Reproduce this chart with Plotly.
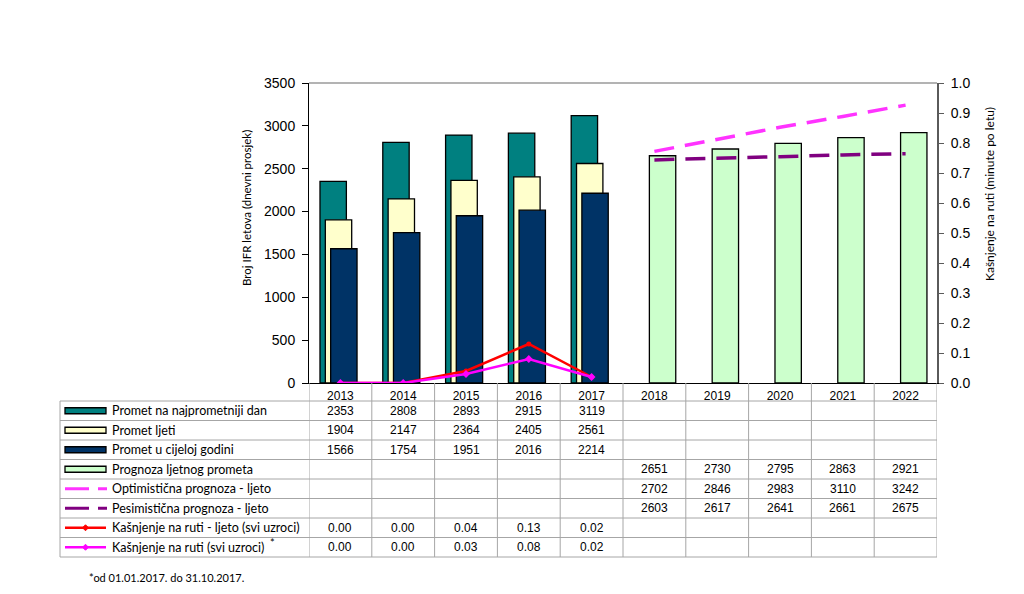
import plotly.graph_objects as go

# ---------------- data ----------------
years = ["2013", "2014", "2015", "2016", "2017", "2018", "2019", "2020", "2021", "2022"]
hist_years = years[:5]
fc_years = years[5:]

peak_day = [2353, 2808, 2893, 2915, 3119]        # Promet na najprometniji dan
summer = [1904, 2147, 2364, 2405, 2561]          # Promet ljeti
annual = [1566, 1754, 1951, 2016, 2214]          # Promet u cijeloj godini
fc_summer = [2651, 2730, 2795, 2863, 2921]       # Prognoza ljetnog prometa
fc_opt = [2702, 2846, 2983, 3110, 3242]          # Optimistična prognoza - ljeto
fc_pes = [2603, 2617, 2641, 2661, 2675]          # Pesimistična prognoza - ljeto
delay_summer = [0.00, 0.00, 0.04, 0.13, 0.02]    # Kašnjenje na ruti - ljeto
delay_all = [0.00, 0.00, 0.03, 0.08, 0.02]       # Kašnjenje na ruti (svi uzroci)

names = [
    "Promet na najprometniji dan",
    "Promet ljeti",
    "Promet u cijeloj godini",
    "Prognoza ljetnog prometa",
    "Optimistična prognoza - ljeto",
    "Pesimistična prognoza - ljeto",
    "Kašnjenje na ruti - ljeto (svi uzroci)",
    "Kašnjenje na ruti (svi uzroci)",
]

C_TEAL = "#008080"
C_CREAM = "#FFFFCC"
C_NAVY = "#003366"
C_GREEN = "#CCFFCC"
C_OPT = "#FF33FF"
C_PES = "#800080"
C_RED = "#FF0000"
C_MAG = "#FF00FF"

NUM_FONT = "Liberation Sans, Arial, sans-serif"
TXT_FONT = "Lato, Carlito, Calibri, sans-serif"

# ---------------- layout geometry (reference pixel coords, page has 8px body margin) ----------------
OFF = 8
W, H = 1024 - OFF, 594 - OFF
PL, PR, PT, PB = 309, 937, 83, 383   # plot area in reference pixels
L, T = PL - OFF, PT - OFF
R = W - (PR - OFF)
B = H - (PB - OFF)
PW = PR - PL
PH = PB - PT


def px2x(px):
    return (px - PL) / PW


def px2y(py):
    return (PB - py) / PH


fig = go.Figure()

BW = 0.42
edge = dict(color="black", width=1.3)
fig.add_trace(go.Bar(x=hist_years, y=peak_day, name=names[0], marker=dict(color=C_TEAL, line=edge),
                     width=BW, offset=-0.325))
fig.add_trace(go.Bar(x=hist_years, y=summer, name=names[1], marker=dict(color=C_CREAM, line=edge),
                     width=BW, offset=-0.24))
fig.add_trace(go.Bar(x=hist_years, y=annual, name=names[2], marker=dict(color=C_NAVY, line=edge),
                     width=BW, offset=-0.155))
fig.add_trace(go.Bar(x=fc_years, y=fc_summer, name=names[3], marker=dict(color=C_GREEN, line=edge),
                     width=BW, offset=-0.08))
fig.add_trace(go.Scatter(x=fc_years, y=fc_opt, name=names[4], mode="lines",
                         line=dict(color=C_OPT, width=3.5, dash="20px,11px")))
fig.add_trace(go.Scatter(x=fc_years, y=fc_pes, name=names[5], mode="lines",
                         line=dict(color=C_PES, width=3.5, dash="20px,11px")))
fig.add_trace(go.Scatter(x=hist_years, y=delay_summer, name=names[6], mode="lines+markers", yaxis="y2",
                         line=dict(color=C_RED, width=2.5), marker=dict(size=5, color=C_RED)))
fig.add_trace(go.Scatter(x=hist_years, y=delay_all, name=names[7], mode="lines+markers", yaxis="y2",
                         line=dict(color=C_MAG, width=2.5), marker=dict(size=6, symbol="diamond", color=C_MAG)))

# ---------------- table (below plot) ----------------
shapes = []
ann = []
GRID = "#A6A6A6"
ROW_TOP = 401
ROW_H = 19.5
NROWS = 8
TABLE_L = 60
TABLE_BOTTOM = ROW_TOP + ROW_H * NROWS

for i in range(NROWS + 1):
    py = ROW_TOP + ROW_H * i
    shapes.append(dict(type="line", xref="paper", yref="paper", x0=px2x(TABLE_L), x1=1,
                       y0=px2y(py), y1=px2y(py), line=dict(color=GRID, width=1)))
for k in range(len(years) + 1):
    shapes.append(dict(type="line", xref="x", yref="paper", x0=k - 0.5, x1=k - 0.5,
                       y0=0, y1=px2y(TABLE_BOTTOM), line=dict(color=GRID, width=1)))
shapes.append(dict(type="line", xref="paper", yref="paper", x0=px2x(TABLE_L), x1=px2x(TABLE_L),
                   y0=px2y(ROW_TOP), y1=px2y(TABLE_BOTTOM), line=dict(color=GRID, width=1)))
shapes.append(dict(type="line", xref="paper", yref="paper", x0=0, x1=1, y0=1, y1=1,
                   line=dict(color="#9A9A9A", width=1.5)))

rows = [
    (hist_years, peak_day, "{:d}"),
    (hist_years, summer, "{:d}"),
    (hist_years, annual, "{:d}"),
    (fc_years, fc_summer, "{:d}"),
    (fc_years, fc_opt, "{:d}"),
    (fc_years, fc_pes, "{:d}"),
    (hist_years, delay_summer, "{:.2f}"),
    (hist_years, delay_all, "{:.2f}"),
]

SYM_L, SYM_R = 65, 106
for i, (xs, vals, fmt) in enumerate(rows):
    cy = ROW_TOP + ROW_H * (i + 0.5)
    for xv, v in zip(xs, vals):
        ann.append(dict(x=years.index(xv), xref="x", y=px2y(cy), yref="paper", text=fmt.format(v),
                        showarrow=False, font=dict(family=NUM_FONT, size=12, color="black"),
                        xanchor="center", yanchor="middle"))
    ann.append(dict(x=px2x(110), xref="paper", y=px2y(cy), yref="paper", text=names[i], showarrow=False,
                    font=dict(family=TXT_FONT, size=12.5, color="black"), xanchor="left", yanchor="middle"))
    if i < 4:
        col = [C_TEAL, C_CREAM, C_NAVY, C_GREEN][i]
        shapes.append(dict(type="rect", xref="paper", yref="paper", x0=px2x(SYM_L), x1=px2x(SYM_R),
                           y0=px2y(cy + 3), y1=px2y(cy - 3), fillcolor=col, line=dict(color="black", width=1.3)))
    elif i < 6:
        col = [C_OPT, C_PES][i - 4]
        for a, b in [(65, 89), (98, 107)]:
            shapes.append(dict(type="line", xref="paper", yref="paper", x0=px2x(a), x1=px2x(b),
                               y0=px2y(cy), y1=px2y(cy), line=dict(color=col, width=3)))
    else:
        col = [C_RED, C_MAG][i - 6]
        shapes.append(dict(type="line", xref="paper", yref="paper", x0=px2x(SYM_L), x1=px2x(SYM_R),
                           y0=px2y(cy), y1=px2y(cy), line=dict(color=col, width=2.5)))
        mx = (SYM_L + SYM_R) / 2
        shapes.append(dict(type="path", xref="paper", yref="paper",
                           path="M {} {} L {} {} L {} {} L {} {} Z".format(
                               px2x(mx - 3), px2y(cy), px2x(mx), px2y(cy - 3),
                               px2x(mx + 3), px2y(cy), px2x(mx), px2y(cy + 3)),
                           fillcolor=col, line=dict(color=col, width=1)))

ann.append(dict(x=px2x(268), xref="paper", y=px2y(542), yref="paper", text="*", showarrow=False,
                font=dict(family=TXT_FONT, size=11, color="black"), xanchor="left", yanchor="middle"))
ann.append(dict(x=px2x(87), xref="paper", y=px2y(577), yref="paper", text="*od 01.01.2017. do 31.10.2017.",
                showarrow=False, font=dict(family=TXT_FONT, size=11, color="black"),
                xanchor="left", yanchor="middle"))
ann.append(dict(x=px2x(246), xref="paper", y=px2y(208), yref="paper", text="Broj IFR letova (dnevni prosjek)",
                showarrow=False, textangle=-90, font=dict(family=TXT_FONT, size=11.5, color="black"),
                xanchor="center", yanchor="middle"))
ann.append(dict(x=px2x(989), xref="paper", y=px2y(194), yref="paper", text="Kašnjenje na ruti (minute po letu)",
                showarrow=False, textangle=-90, font=dict(family=TXT_FONT, size=12, color="black"),
                xanchor="center", yanchor="middle"))

fig.update_layout(
    width=W, height=H,
    margin=dict(l=L, r=R, t=T, b=B, pad=0),
    paper_bgcolor="white", plot_bgcolor="white",
    barmode="overlay",
    showlegend=False,
    xaxis=dict(type="category", categoryorder="array", categoryarray=years, range=[-0.5, 9.5],
               showline=True, linecolor="black", linewidth=1, ticks="", showgrid=False,
               tickfont=dict(family=NUM_FONT, size=12, color="black"), ticklabelstandoff=2, zeroline=False),
    yaxis=dict(range=[0, 3500], dtick=500, showline=True, linecolor="black", linewidth=1, ticks="outside",
               ticklen=6, tickcolor="black", showgrid=False, zeroline=False,
               tickfont=dict(family=NUM_FONT, size=14, color="black"), ticklabelstandoff=4),
    yaxis2=dict(range=[0, 1.0], dtick=0.1, tickformat=".1f", overlaying="y", side="right", showline=True,
                linecolor="#5A5A5A", linewidth=2, ticks="outside", ticklen=5, tickcolor="#5A5A5A",
                showgrid=False, zeroline=False, tickfont=dict(family=NUM_FONT, size=14, color="black"),
                ticklabelstandoff=4),
    shapes=shapes,
    annotations=ann,
)

fig.write_html("out.html")
